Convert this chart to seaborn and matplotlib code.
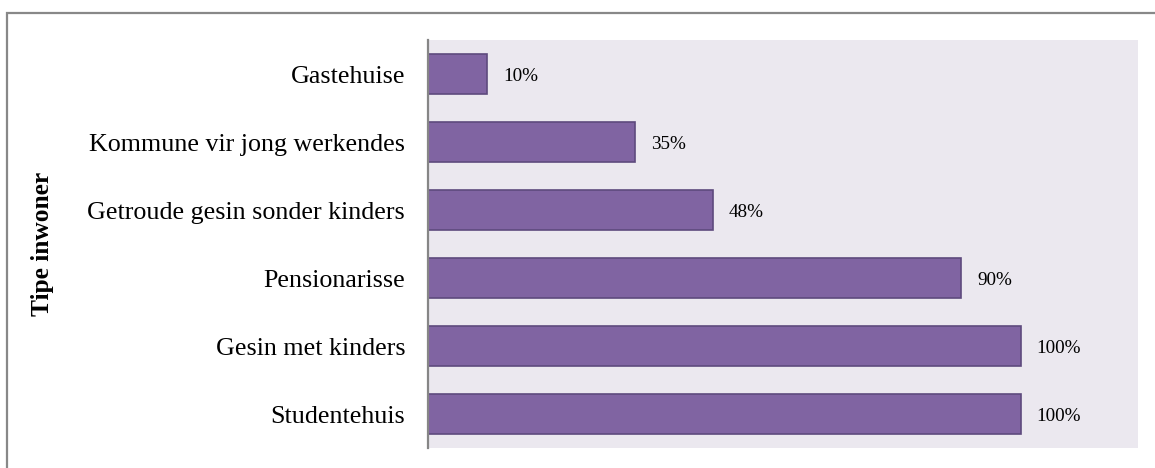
import matplotlib
matplotlib.use("Agg")
import matplotlib.pyplot as plt
import seaborn as sns
import pandas as pd
from matplotlib.patches import Rectangle

# Residence types and their percentages
categories = [
    "Gastehuise",
    "Kommune vir jong werkendes",
    "Getroude gesin sonder kinders",
    "Pensionarisse",
    "Gesin met kinders",
    "Studentehuis",
]
values = [10, 35, 48, 90, 100, 100]
value_labels = ["10%", "35%", "48%", "90%", "100%", "100%"]

df = pd.DataFrame({"tipe": categories, "waarde": values})

sns.set_theme(style="white")
plt.rcParams["font.family"] = ["Liberation Serif", "DejaVu Serif"]

fig = plt.figure(figsize=(11.55, 4.68), dpi=100)
ax = fig.add_axes([0.3706, 0.0427, 0.6147, 0.8718])
ax.set_facecolor("#EBE8EF")

sns.barplot(data=df, x="waarde", y="tipe", orient="h", order=categories,
            color="#8064A2", saturation=1, width=0.6,
            edgecolor="#5E4A7D", linewidth=1.2, ax=ax)

for i, (v, lab) in enumerate(zip(values, value_labels)):
    ax.annotate(lab, xy=(v, i), xytext=(11.5, -1.5), textcoords="offset points",
                ha="left", va="center", fontsize=13.8, color="black")

ax.set_xlim(0, 119.8)
ax.set_ylim(5.5, -0.5)
ax.set_xticks([])
ax.set_xlabel("")
ax.set_ylabel("Tipe inwoner", fontsize=18.3, fontweight="bold", color="black")
ax.yaxis.set_label_coords(-0.527, 0.5)
ax.tick_params(axis="y", length=0, pad=16.5, labelsize=18.7, labelcolor="black")

for s in ["top", "right", "bottom"]:
    ax.spines[s].set_visible(False)
ax.spines["left"].set_color("#868686")
ax.spines["left"].set_linewidth(1.6)

# Outer frame of the chart area
fig.patches.append(Rectangle((7 / 1155, -0.1), 1.2, 1 - 13 / 468 + 0.1,
                             transform=fig.transFigure, fill=False,
                             edgecolor="#888888", linewidth=1.6, zorder=0))

fig.savefig("out.png", dpi=100)
